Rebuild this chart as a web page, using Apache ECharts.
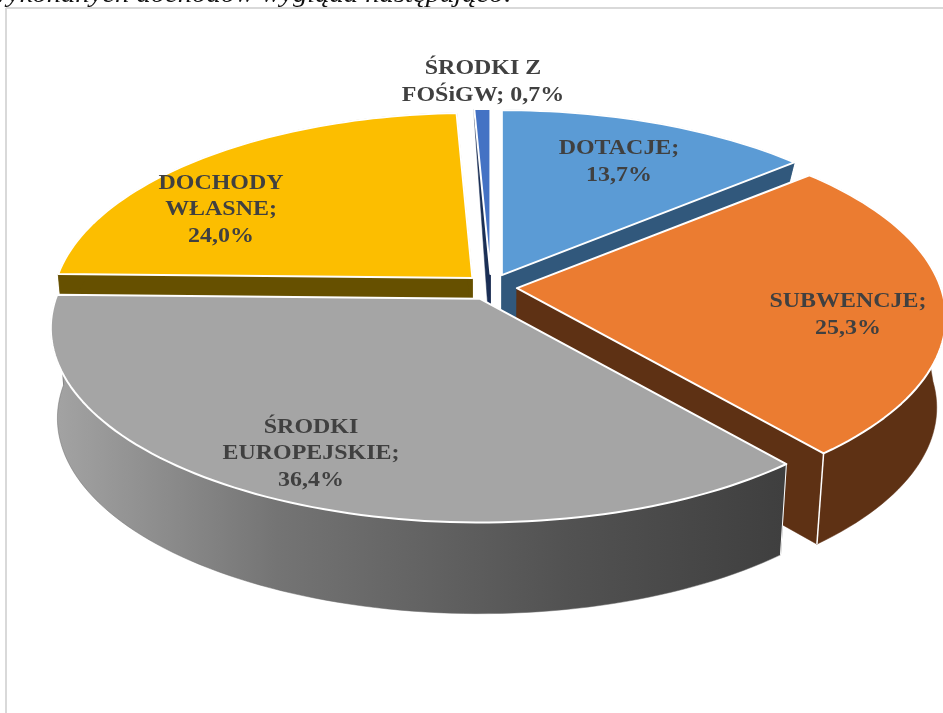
<!DOCTYPE html>
<html><head><meta charset="utf-8">
<style>html,body{margin:0;padding:0;background:#fff}#c{width:943px;height:713px}</style>
<script src="https://cdn.jsdelivr.net/npm/echarts@6/dist/echarts.min.js"></script>
</head><body><div id="c"></div>
<script>
const categories = ['DOTACJE','SUBWENCJE','ŚRODKI EUROPEJSKIE','DOCHODY WŁASNE','ŚRODKI Z FOŚiGW'];
const values = [13.7,25.3,36.4,24.0,0.7];
const labelLines = [['DOTACJE;','13,7%'],['SUBWENCJE;','25,3%'],['ŚRODKI','EUROPEJSKIE;','36,4%'],['DOCHODY','WŁASNE;','24,0%'],['ŚRODKI Z','FOŚiGW; 0,7%']];
const topColors = ['#5b9bd5','#eb7c31','#a5a5a5','#fcbe00','#4472c4'];
const wallColors = ['#31587c','#5e3114',null,'#665000','#1a2f55'];

// layout of the drawing (not data)
const drawOrder = [3,4,0,1,2];
const labelCentres = [[619,162],[848,315],[311,454],[221,210],[483,82]];
const radiusScale = [1,1,1,0.98,1];
const cornerLine = [false,true,true,false,false];
const C = {x:491,y:287,rx:424,ry:190,p:0.151,explode:26,k:0.5,shrinkR:0.98,shrinkL:0.985};
const depthStops = [[110,12],[255,45],[290,90],[700,92]];

const total = values.reduce((a,b)=>a+b,0);
const rad = d=>d*Math.PI/180;
function depth(Y){
  if(Y<=depthStops[0][0])return depthStops[0][1];
  for(let i=1;i<depthStops.length;i++){
    const a=depthStops[i-1],b=depthStops[i];
    if(Y<=b[0])return a[1]+(b[1]-a[1])*(Y-a[0])/(b[0]-a[0]);
  }
  return 92;
}
function bottom(P){
  const s=P[0]<C.x?C.shrinkL:C.shrinkR;
  return [C.x+(P[0]-C.x)*s,P[1]+depth(P[1])];
}
function render(params,api){
  const i=params.dataIndex, v=api.value(1);
  let before=0; for(let j=0;j<i;j++)before+=values[j];
  const a0=before/total*360, a1=(before+v)/total*360, mid=(a0+a1)/2;
  const ax=C.x+C.explode*Math.sin(rad(mid)), ay=C.y-C.explode*C.k*Math.cos(rad(mid));
  const rx=C.rx*radiusScale[i];
  const rim=a=>{const s=Math.sin(rad(a)),c=Math.cos(rad(a)),w=1+C.p*c;return [ax+rx*s/w,ay-C.ry*c/w];};
  const arc=[]; const n=Math.max(4,Math.ceil((a1-a0)/1.5));
  for(let k=0;k<=n;k++)arc.push(rim(a0+(a1-a0)*k/n));
  const apex=[ax,ay], order=drawOrder.indexOf(i)*10;
  const wallFill = wallColors[i] || new echarts.graphic.LinearGradient(60,0,783,0,[
    {offset:0,color:'#a2a2a2'},{offset:0.3,color:'#747474'},{offset:0.7,color:'#525252'},{offset:1,color:'#3f3f3f'}],true);
  const wallStyle={fill:wallFill,stroke:wallColors[i]||'#6a6a6a',lineWidth:0.5,lineJoin:'round'};
  const poly=(pts,style,z)=>({type:'polygon',shape:{points:pts},style,z2:order+z,silent:true});
  const first=arc[0], last=arc[arc.length-1];
  const children=[
    poly([apex,first,bottom(first),bottom(apex)],wallStyle,0),
    poly([apex,last,bottom(last),bottom(apex)],wallStyle,1),
    poly(arc.concat(arc.map(bottom).reverse()),wallStyle,2),
    poly([apex].concat(arc),{fill:topColors[i],stroke:'#fff',lineWidth:2,lineJoin:'round'},4)
  ];
  if(cornerLine[i]){
    const b=bottom(first);
    children.push({type:'line',shape:{x1:first[0],y1:first[1],x2:b[0],y2:b[1]},style:{stroke:'#fff',lineWidth:i===1?1.5:1},z2:order+3,silent:true});
  }
  if(i===1){
    const b=bottom(last);
    children.push({type:'line',shape:{x1:last[0],y1:last[1],x2:b[0],y2:b[1]},style:{stroke:'#fff',lineWidth:1.5},z2:order+3,silent:true});
  }
  const lh=26.5, lines=labelLines[i], c=labelCentres[i];
  lines.forEach((t,li)=>children.push({
    type:'text',x:c[0],y:c[1]+(li-(lines.length-1)/2)*lh,scaleX:1.14,silent:true,z2:1000,
    style:{text:t,fill:'#404040',font:'bold 21px "Liberation Serif"',textAlign:'center',textVerticalAlign:'middle'}
  }));
  return {type:'group',children};
}
const chart=echarts.init(document.getElementById('c'),null,{renderer:'canvas'});
chart.setOption({
  animation:false,
  backgroundColor:'#fff',
  graphic:[
    {type:'line',shape:{x1:6,y1:8,x2:6,y2:713},style:{stroke:'#d9d9d9',lineWidth:2},z:-1},
    {type:'line',shape:{x1:6,y1:8,x2:943,y2:8},style:{stroke:'#d9d9d9',lineWidth:2},z:-1},
    {type:'text',x:-12,y:-18,scaleX:1.1,style:{text:'wykonanych dochodów wygląda następująco:',fill:'#111',font:'italic 26px "Liberation Serif"'},z:-1}
  ],
  series:[{
    type:'custom',coordinateSystem:'none',clip:false,
    data:values.map((v,i)=>({name:categories[i],value:[i,v]})),
    renderItem:render
  }]
});
</script></body></html>
